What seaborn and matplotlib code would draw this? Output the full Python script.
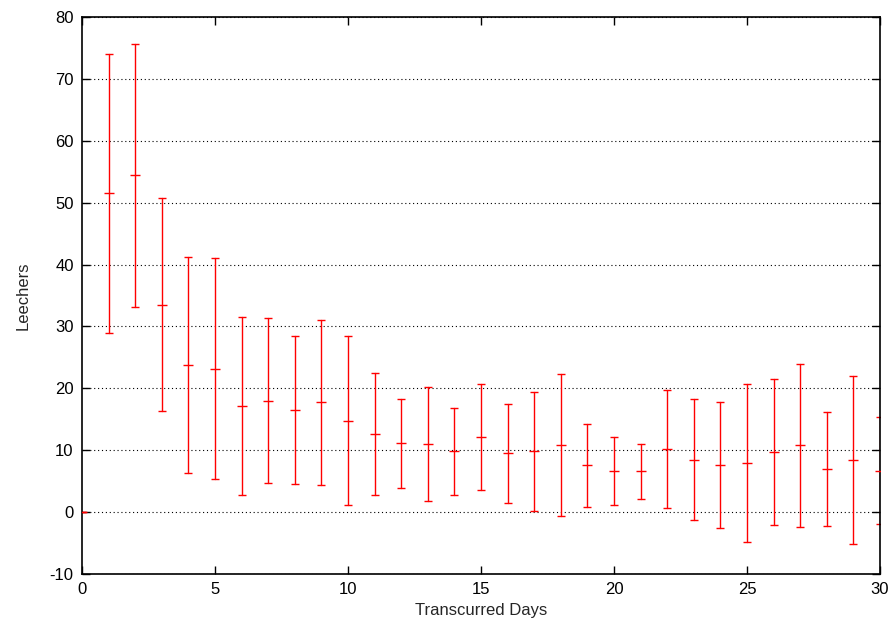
import pandas as pd
import matplotlib
matplotlib.use("Agg")
import matplotlib.pyplot as plt
import seaborn as sns

# Leechers per day: mean and error bar limits
days = list(range(0, 31))
mean = [0, 51.5, 54.4, 33.5, 23.8, 23.2, 17.2, 18.0, 16.5, 17.8, 14.8,
        12.6, 11.1, 11.0, 9.9, 12.1, 9.5, 9.8, 10.9, 7.6, 6.7,
        6.6, 10.2, 8.5, 7.6, 8.0, 9.7, 10.9, 7.0, 8.4, 6.7]
upper = [0, 74.0, 75.6, 50.8, 41.2, 41.0, 31.6, 31.3, 28.5, 31.0, 28.5,
         22.4, 18.3, 20.2, 16.8, 20.7, 17.5, 19.4, 22.3, 14.3, 12.1,
         11.0, 19.7, 18.3, 17.8, 20.7, 21.5, 24.0, 16.1, 22.0, 15.3]
lower = [0, 29.0, 33.2, 16.3, 6.3, 5.3, 2.8, 4.7, 4.5, 4.3, 1.2,
         2.8, 3.9, 1.8, 2.8, 3.6, 1.5, 0.2, -0.6, 0.8, 1.2,
         2.1, 0.7, -1.2, -2.6, -4.9, -2.1, -2.4, -2.2, -5.2, -1.9]

# long form: median of (lower, mean, upper) is the mean, min-max is the bar
df = pd.DataFrame({
    "day": days * 3,
    "leechers": lower + mean + upper,
})

sns.set_style("ticks")
plt.rcParams["font.family"] = ["Liberation Sans", "DejaVu Sans"]
plt.rcParams["axes.unicode_minus"] = False

fig = plt.figure(figsize=(8.94, 6.32), dpi=100)
ax = fig.add_axes([82 / 894, 1 - 574 / 632, (880 - 82) / 894, (574 - 17) / 632])

sns.lineplot(data=df, x="day", y="leechers", estimator="median",
             errorbar=("pi", 100), err_style="bars", color="red",
             linestyle="", err_kws=dict(capsize=3, elinewidth=1, capthick=1),
             ax=ax)
# mean ticks
sns.scatterplot(x=days, y=mean, marker="_", s=50, color="red",
                linewidth=1, ax=ax, zorder=3)

ax.set_xlim(0, 30)
ax.set_ylim(-10, 80)
ax.set_xticks(range(0, 31, 5))
ax.set_yticks(range(-10, 81, 10))
ax.grid(axis="y", color="black", linestyle=(0, (1, 2.5)), linewidth=0.8)
ax.tick_params(direction="in", top=True, right=True, length=6, width=1,
               labelsize=12, colors="black", pad=6)
for side in ax.spines.values():
    side.set_linewidth(1.2)
    side.set_color("black")
ax.set_xlabel("Transcurred Days", fontsize=12)
ax.set_ylabel("Leechers", fontsize=12, labelpad=14)

fig.savefig("out.png", dpi=100)
